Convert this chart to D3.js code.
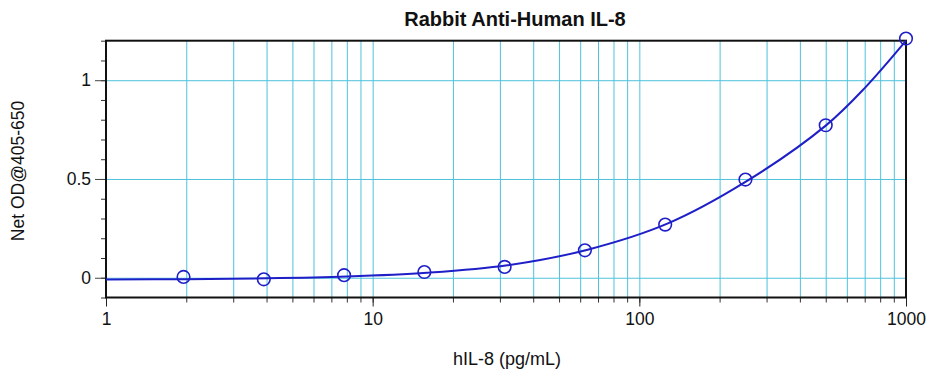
<!DOCTYPE html>
<html>
<head>
<meta charset="utf-8">
<script src="https://cdn.jsdelivr.net/npm/d3@7"></script>
<style>
  body { margin: 0; background: white; }
  svg { font-family: Arial, "Liberation Sans", sans-serif; }
</style>
</head>
<body>
<main></main>
<script>
// standard curve points
let concentrations = [1.953, 3.906, 7.8125, 15.625, 31.25, 62.5, 125, 250, 500, 1000]
let odValues = [0.004, -0.008, 0.013, 0.029, 0.055, 0.139, 0.269, 0.497, 0.772, 1.211]

// fitted line
let fitX = [1, 2, 4, 8, 16, 32, 64, 128, 250, 500, 700, 1000]
let fitY = [-0.009, -0.007, -0.003, 0.006, 0.025, 0.063, 0.142, 0.275, 0.485, 0.77, 0.96, 1.2]

let xTickLabels = [1, 10, 100, 1000]
let yTickLabels = [0, 0.5, 1]

const svgWidth = 930
const svgHeight = 372

const plotLeft = 106, plotRight = 906, plotTop = 40.7, plotBottom = 297.5
const gridColor = "#4fc2dc"
const blue = "#1f1fc8"

let svg = d3.select("main")
    .append("svg")
    .attr("width", svgWidth)
    .attr("height", svgHeight)

//scales
let xScale = d3.scaleLog()
    .domain([1, 1000])
    .range([plotLeft, plotRight])

let yScale = d3.scaleLinear()
    .domain([-0.1, 1.2])
    .range([plotBottom, plotTop])

// every 1..9 inside each decade
let minorX = []
for (let d = 1; d < 1000; d *= 10) {
    for (let k = 1; k < 10; k++) minorX.push(d * k)
}
minorX.push(1000)
let minorY = d3.range(-1, 13).map((d) => d / 10)

//grid lines
let vGrid = svg.append("g")
    .attr("transform", `translate(0, ${plotBottom})`)
    .call(d3.axisBottom(xScale).tickValues(minorX.filter((d) => d > 1 && d < 1000))
        .tickSize(-(plotBottom - plotTop)).tickFormat(""))
vGrid.select(".domain").remove()
vGrid.selectAll("line").style("stroke", gridColor)

let hGrid = svg.append("g")
    .attr("transform", `translate(${plotLeft}, 0)`)
    .call(d3.axisLeft(yScale).tickValues(yTickLabels)
        .tickSize(-(plotRight - plotLeft)).tickFormat(""))
hGrid.select(".domain").remove()
hGrid.selectAll("line").style("stroke", gridColor)

//minor ticks
let xMinor = svg.append("g")
    .attr("transform", `translate(0, ${plotBottom})`)
    .call(d3.axisBottom(xScale).tickValues(minorX).tickSize(5).tickFormat(""))
xMinor.select(".domain").remove()
xMinor.selectAll("line").style("stroke", "#333")

let yMinor = svg.append("g")
    .attr("transform", `translate(${plotLeft}, 0)`)
    .call(d3.axisLeft(yScale).tickValues(minorY).tickSize(5).tickFormat(""))
yMinor.select(".domain").remove()
yMinor.selectAll("line").style("stroke", "#333")

//major axes
let xAxis = svg.append("g")
    .attr("transform", `translate(0, ${plotBottom})`)
    .call(d3.axisBottom(xScale).tickValues(xTickLabels).tickSize(9)
        .tickPadding(6).tickFormat(d3.format("d")))
xAxis.select(".domain").remove()
xAxis.selectAll("line").style("stroke", "#222")
xAxis.selectAll("text")
    .style("font-size", "17.5px")
    .style("fill", "#111")

let yAxis = svg.append("g")
    .attr("transform", `translate(${plotLeft}, 0)`)
    .call(d3.axisLeft(yScale).tickValues(yTickLabels).tickSize(11)
        .tickPadding(4).tickFormat((d) => d))
yAxis.select(".domain").remove()
yAxis.selectAll("line").style("stroke", "#444")
yAxis.selectAll("text")
    .style("font-size", "17.5px")
    .style("fill", "#111")

//frame
svg.append("rect")
    .attr("x", plotLeft)
    .attr("y", plotTop)
    .attr("width", plotRight - plotLeft)
    .attr("height", plotBottom - plotTop)
    .attr("fill", "none")
    .attr("stroke", "#111")
    .attr("stroke-width", 2)

//fit line
let fitData = fitX.map((d, i) => ({ x: d, y: fitY[i] }))
let line = d3.line()
    .x((d) => xScale(d.x))
    .y((d) => yScale(d.y))
    .curve(d3.curveCatmullRom.alpha(0.5))

svg.append("path")
    .datum(fitData)
    .attr("d", line)
    .attr("fill", "none")
    .attr("stroke", blue)
    .attr("stroke-width", 2)

//points
let points = concentrations.map((d, i) => ({ x: d, y: odValues[i] }))
svg.append("g")
    .selectAll("circle")
    .data(points)
    .enter()
    .append("circle")
    .attr("cx", (d) => xScale(d.x))
    .attr("cy", (d) => yScale(d.y))
    .attr("r", 6.3)
    .attr("fill", "none")
    .attr("stroke", blue)
    .attr("stroke-width", 1.6)

//titles
svg.append("text")
    .attr("x", 515)
    .attr("y", 25.5)
    .attr("text-anchor", "middle")
    .style("font-size", "20px")
    .style("font-weight", "bold")
    .attr("fill", "#111")
    .text("Rabbit Anti-Human IL-8")

svg.append("text")
    .attr("x", 507)
    .attr("y", 365)
    .attr("text-anchor", "middle")
    .style("font-size", "18px")
    .attr("fill", "#111")
    .text("hIL-8 (pg/mL)")

svg.append("text")
    .attr("transform", "translate(24, 171) rotate(-90)")
    .attr("text-anchor", "middle")
    .style("font-size", "17.5px")
    .attr("fill", "#111")
    .text("Net OD@405-650")
</script>
</body>
</html>
